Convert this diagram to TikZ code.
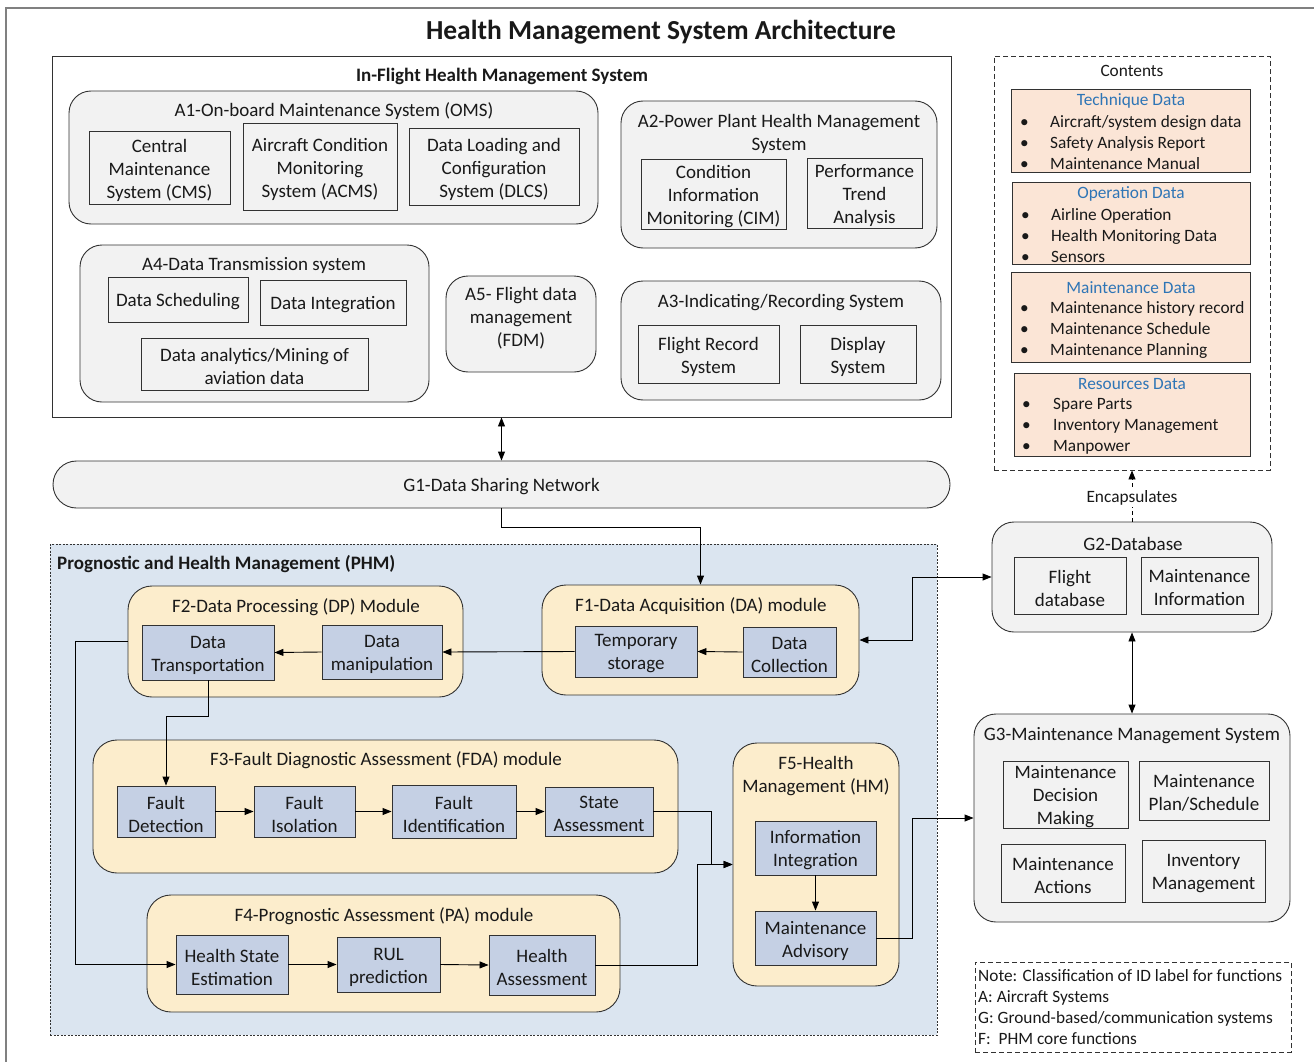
\documentclass[tikz,border=0pt]{standalone}
\usepackage{fontspec}
\setmainfont{Carlito}
\usetikzlibrary{arrows.meta}

\definecolor{cgray}{RGB}{242,242,242}
\definecolor{cyellow}{RGB}{252,237,204}
\definecolor{cblue}{RGB}{197,208,228}
\definecolor{phmbg}{RGB}{219,229,240}
\definecolor{cpeach}{RGB}{251,229,214}
\definecolor{ctitle}{RGB}{46,117,182}
\definecolor{cline}{RGB}{50,50,50}

% empty box from corner (x1,y1) to corner (x2,y2), y measured downwards
\newcommand{\mkbox}[6]{%
  \pgfmathsetmacro{\mkw}{#4-#2}\pgfmathsetmacro{\mkh}{#5-#3}%
  \node[#6, minimum width=\mkw pt, minimum height=\mkh pt] (#1)
    at ({(#2+#4)/2},{(#3+#5)/2}) {};}
% box with centred text
\newcommand{\mktbox}[7]{%
  \mkbox{#1}{#2}{#3}{#4}{#5}{#6}%
  \node[lbl, align=center] (#1-text) at (#1.center) {#7};}

\begin{document}
\begin{tikzpicture}[x=1pt,y=-1pt,
  every node/.style={font=\fontsize{19}{23}\selectfont, inner sep=0pt, text=black!90},
  lbl/.style={yshift=-2.5pt},
  smallfont/.style={font=\fontsize{17.3}{21}\selectfont},
  slbl/.style={yshift=-1.5pt, smallfont},
  plain/.style={draw=cline, line width=0.9pt},
  cont/.style={plain, fill=cgray, rounded corners=22pt},
  modbox/.style={plain, fill=cyellow, rounded corners=24pt},
  gbox/.style={plain, fill=cgray},
  bbox/.style={plain, fill=cblue},
  pbox/.style={plain, fill=cpeach},
  dbox/.style={draw=cline, line width=0.9pt, dash pattern=on 5pt off 3pt},
  boldlbl/.style={lbl, font=\bfseries\fontsize{19}{23}\selectfont},
  arr/.style={draw=black, line width=0.9pt, -{Triangle[length=9pt,width=7pt]}},
  arrb/.style={draw=black, line width=0.9pt, {Triangle[length=9pt,width=7pt]}-{Triangle[length=9pt,width=7pt]}},
  ctitle/.style={text=ctitle}]

\useasboundingbox (0,0) rectangle (1314,1062);
\clip (0,0) rectangle (1314,1062);

% outer frame
\draw[gray, line width=1.2pt] (6,1100) -- (6,8) -- (1350,8);

\node[font=\bfseries\fontsize{27.5}{32}\selectfont] (title) at (661,32) {Health Management System Architecture};

% ---------------- in-flight systems ----------------
\mkbox{inflight}{52}{56}{951}{417}{plain, fill=white}
\node[boldlbl] (inflightlbl) at (502,74) {In-Flight Health Management System};

\mkbox{a1}{69}{91}{598}{224}{cont}
\node[lbl] (a1t) at (334,109) {A1-On-board Maintenance System (OMS)};
\mktbox{cms}{89}{131}{230}{204}{gbox}{Central\\Maintenance\\System (CMS)}
\mktbox{acms}{243}{123}{397}{210}{gbox}{Aircraft Condition\\Monitoring\\System (ACMS)}
\mktbox{dlcs}{409}{128}{579}{205}{gbox}{Data Loading and\\Configuration\\System (DLCS)}

\mkbox{a2}{621}{101}{937}{248}{cont}
\node[lbl, align=center] (a2t) at (779,131) {A2-Power Plant Health Management\\System};
\mktbox{cim}{641}{159}{786}{229}{gbox}{Condition\\Information\\Monitoring (CIM)}
\mktbox{pta}{807}{158}{922}{228}{gbox}{Performance\\Trend\\Analysis}

\mkbox{a4}{80}{245}{429}{402}{cont}
\node[lbl] (a4t) at (254,263) {A4-Data Transmission system};
\mktbox{dsch}{108}{277}{248}{322}{gbox}{Data Scheduling}
\mktbox{dint}{260}{280}{406}{325}{gbox}{Data Integration}
\mktbox{dana}{141}{338}{368}{390}{gbox}{Data analytics/Mining of\\aviation data}

\mkbox{a5}{446}{276}{596}{372}{cont}
\node[lbl, align=center] (a5t) at (521,316) {A5- Flight data\\management\\(FDM)};

\mkbox{a3}{621}{281}{941}{400}{cont}
\node[lbl] (a3t) at (781,300) {A3-Indicating/Recording System};
\mktbox{frs}{638}{325}{779}{383}{gbox}{Flight Record\\System}
\mktbox{disp}{800}{325}{916}{383}{gbox}{Display\\System}

% ---------------- data sharing network ----------------
\mktbox{g1}{53}{461}{950}{508}{plain, fill=cgray, rounded corners=23.5pt}{G1-Data Sharing Network}
\draw[arrb] (inflight.south) -- (g1.north);

% ---------------- PHM ----------------
\mkbox{phm}{50}{544}{937}{1035}{draw=cline, line width=0.8pt, dash pattern=on 2pt off 1.5pt, fill=phmbg}
\node[boldlbl, anchor=west] (phmlbl) at (57,562) {Prognostic and Health Management (PHM)};

\mkbox{f2}{128}{586}{463}{697}{modbox}
\node[lbl] (f2t) at (296,605) {F2-Data Processing (DP) Module};
\mktbox{dt}{142}{625}{274}{680}{bbox}{Data\\Transportation}
\mktbox{dm}{322}{625}{442}{679}{bbox}{Data\\manipulation}

\mkbox{f1}{542}{585}{859}{695}{modbox}
\node[lbl] (f1t) at (701,604) {F1-Data Acquisition (DA) module};
\mktbox{ts}{575}{626}{697}{677}{bbox}{Temporary\\storage}
\mktbox{dc}{743}{627}{836}{677}{bbox}{Data\\Collection}

\mkbox{f3}{93}{740}{678}{873}{modbox}
\node[lbl] (f3t) at (386,758) {F3-Fault Diagnostic Assessment (FDA) module};
\mktbox{fd}{117}{786}{215}{837}{bbox}{Fault\\Detection}
\mktbox{fi}{254}{786}{355}{837}{bbox}{Fault\\Isolation}
\mktbox{fid}{392}{785}{516}{838}{bbox}{Fault\\Identification}
\mktbox{sa}{545}{787}{653}{836}{bbox}{State\\Assessment}

\mkbox{f4}{147}{895}{620}{1012}{modbox}
\node[lbl] (f4t) at (384,914) {F4-Prognostic Assessment (PA) module};
\mktbox{hse}{176}{935}{288}{994}{bbox}{Health State\\Estimation}
\mktbox{rul}{337}{937}{440}{992}{bbox}{RUL\\prediction}
\mktbox{ha}{489}{935}{595}{995}{bbox}{Health\\Assessment}

\mkbox{f5}{733}{743}{899}{986}{modbox}
\node[lbl, align=center] (f5t) at (816,774) {F5-Health\\Management (HM)};
\mktbox{ii}{755}{821}{876}{875}{bbox}{Information\\Integration}
\mktbox{ma}{755}{911}{876}{965}{bbox}{Maintenance\\Advisory}

% ---------------- ground side ----------------
\mkbox{contents}{994}{56}{1270}{470}{dbox}
\node[slbl] (contt) at (1132,69) {Contents};

\mkbox{techd}{1011}{89}{1250}{172}{pbox}
\node[slbl, ctitle] (techt) at (1131,99) {Technique Data};
\node[slbl, align=left, anchor=west] (techi) at (1020,141)
  {\makebox[30pt][l]{•}Aircraft/system design data\\\makebox[30pt][l]{•}Safety Analysis Report\\\makebox[30pt][l]{•}Maintenance Manual};

\mkbox{oped}{1012}{182}{1250}{264}{pbox}
\node[slbl, ctitle] (opet) at (1131,192) {Operation Data};
\node[slbl, align=left, anchor=west] (opei) at (1021,234)
  {\makebox[30pt][l]{•}Airline Operation\\\makebox[30pt][l]{•}Health Monitoring Data\\\makebox[30pt][l]{•}Sensors};

\mkbox{maind}{1011}{272}{1250}{362}{pbox}
\node[slbl, ctitle] (maint) at (1131,286) {Maintenance Data};
\node[slbl, align=left, anchor=west] (maini) at (1020,328)
  {\makebox[30pt][l]{•}Maintenance history record\\\makebox[30pt][l]{•}Maintenance Schedule\\\makebox[30pt][l]{•}Maintenance Planning};

\mkbox{resd}{1014}{373}{1250}{456}{pbox}
\node[slbl, ctitle] (rest) at (1132,383) {Resources Data};
\node[slbl, align=left, anchor=west] (resi) at (1022,425)
  {\makebox[31pt][l]{•}Spare Parts\\\makebox[31pt][l]{•}Inventory Management\\\makebox[31pt][l]{•}Manpower};

\mkbox{g2}{992}{522}{1272}{632}{cont}
\node[lbl] (g2t) at (1133,541) {G2-Database};
\mktbox{fdb}{1014}{557}{1126}{614}{gbox}{Flight\\database}
\mktbox{mdb}{1141}{557}{1258}{614}{gbox}{Maintenance\\Information}

\mkbox{g3}{974}{714}{1290}{922}{cont}
\node[lbl] (g3t) at (1132,733) {G3-Maintenance Management System};
\mktbox{mdm}{1003}{761}{1128}{828}{gbox}{Maintenance\\Decision\\Making}
\mktbox{mps}{1139}{761}{1269}{820}{gbox}{Maintenance\\Plan/Schedule}
\mktbox{mact}{1001}{844}{1125}{902}{gbox}{Maintenance\\Actions}
\mktbox{inv}{1142}{840}{1265}{902}{gbox}{Inventory\\Management}

\mkbox{note}{975}{962}{1291}{1052}{dbox}
\node[smallfont, align=left, anchor=west] (notet) at (978,1007)
  {Note: Classification of ID label for functions\\A: Aircraft Systems\\G: Ground-based/communication systems\\F:\ \ PHM core functions};

% ---------------- connectors ----------------
\coordinate (dtout) at (128,641);

\draw[arr] (g1.south) -- ++(0,19) -| (f1.north);
\draw[arrb] (f1.east) -- ++(53,0) |- (g2.west);
\draw[arr] (dc.west) -- (ts.east);
\draw[arr] (ts.west) -- (dm.east);
\draw[arr] (dm.west) -- (dt.east);
\draw[arr] (dt.south) -- ++(0,36) -| (fd.north);
\draw[arr] (dtout) -- ++(-53,0) |- (hse.west);
\draw[arr] (fd.east) -- (fi.west);
\draw[arr] (fi.east) -- (fid.west);
\draw[arr] (fid.east) -- (sa.west);
\draw[arr] (sa.east) -- ++(58,0) |- (f5.west);
\draw[arr] (hse.east) -- (rul.west);
\draw[arr] (rul.east) -- (ha.west);
\draw[arr] (ha.east) -- ++(102,0) |- (f5.west);
\draw[arr] (ii.south) -- (ma.north);
\draw[arr] (ma.east) -- ++(36,0) |- (g3.west);
\draw[arrb] (g2.south) -- (g3.north);
\draw[arr, dash pattern=on 4pt off 3pt] (g2.north) -- node[smallfont, fill=white, inner sep=2pt, yshift=-2pt] (encl) {Encapsulates} (contents.south);

\end{tikzpicture}
\end{document}
